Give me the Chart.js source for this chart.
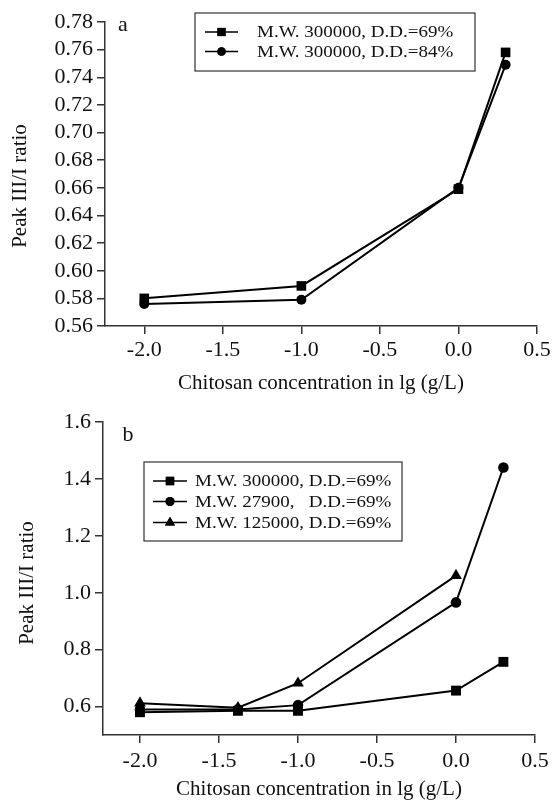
<!DOCTYPE html>
<html>
<head>
<meta charset="utf-8">
<script src="https://cdn.jsdelivr.net/npm/chart.js@4/dist/chart.umd.min.js"></script>
<style>
  html, body { margin: 0; padding: 0; background: #fff; }
  .wrap { position: relative; width: 554px; height: 803px; }
  canvas { position: absolute; left: 0; }
  #chart-a { top: 0; }
  #chart-b { top: 400px; }
</style>
</head>
<body>
<div class="wrap">
  <canvas id="chart-a" width="554" height="400" style="width:554px;height:400px"></canvas>
  <canvas id="chart-b" width="554" height="403" style="width:554px;height:403px"></canvas>
</div>
<script>
// ── Datos panel a ────────────────────────────────────────────────────────────
const concA   = [-2.0, -1.0, 0.0, 0.3];
const dd69A   = [0.580, 0.589, 0.659, 0.758];
const dd84A   = [0.576, 0.579, 0.660, 0.749];
const labelsA = ['M.W. 300000, D.D.=69%', 'M.W. 300000, D.D.=84%'];
const xTicksA = [-2.0, -1.5, -1.0, -0.5, 0.0, 0.5];
const yTicksA = [0.56, 0.58, 0.60, 0.62, 0.64, 0.66, 0.68, 0.70, 0.72, 0.74, 0.76, 0.78];

// ── Datos panel b ────────────────────────────────────────────────────────────
const concB      = [-2.0, -1.38, -1.0, 0.0, 0.3];
const mw300000B  = [0.580, 0.585, 0.585, 0.656, 0.757];
const mw27900B   = [0.590, 0.590, 0.605, 0.966, 1.440];
const mw125000B  = [0.612, 0.596, 0.682, 1.060];        // sin punto en 0.3
const labelsB    = ['M.W. 300000, D.D.=69%', 'M.W. 27900,   D.D.=69%', 'M.W. 125000, D.D.=69%'];
const xTicksB    = [-2.0, -1.5, -1.0, -0.5, 0.0, 0.5];
const yTicksB    = [0.6, 0.8, 1.0, 1.2, 1.4, 1.6];

const FONT = "'Liberation Serif', 'Times New Roman', serif";
const INK  = '#111';
const AXIS = '#333';

const toXY = (xs, ys) => ys.map((y, i) => ({ x: xs[i], y }));

// Leyenda con recuadro dentro del área del gráfico
const boxLegend = {
  id: 'boxLegend',
  afterDraw(chart, args, o) {
    const ctx = chart.ctx;
    ctx.save();
    ctx.strokeStyle = AXIS;
    ctx.lineWidth = 1.2;
    ctx.strokeRect(o.box[0], o.box[1], o.box[2], o.box[3]);
    chart.data.datasets.forEach((ds, i) => {
      const y = o.rows[i];
      ctx.strokeStyle = '#000';
      ctx.lineWidth = 1.6;
      ctx.beginPath();
      ctx.moveTo(o.symX, y);
      ctx.lineTo(o.symX + o.symW, y);
      ctx.stroke();
      ctx.fillStyle = '#000';
      Chart.helpers.drawPoint(ctx, { pointStyle: ds.pointStyle, radius: ds.pointRadius * 0.85, borderWidth: 0 },
        o.symX + o.symW / 2, y);
      ctx.fill();
      ctx.save();
      ctx.translate(o.textX, y + 1);
      ctx.scale(1, 0.86);
      ctx.font = '19px ' + FONT;
      ctx.fillStyle = INK;
      ctx.textBaseline = 'middle';
      ctx.fillText(ds.label, 0, 0);
      ctx.restore();
    });
    ctx.restore();
  }
};

// Letra del panel (a / b) y título vertical
const panelText = {
  id: 'panelText',
  afterDraw(chart, args, o) {
    const ctx = chart.ctx;
    ctx.save();
    ctx.fillStyle = INK;
    ctx.textAlign = 'center';
    ctx.textBaseline = 'middle';
    ctx.font = '22px ' + FONT;
    ctx.fillText(o.tag, o.tagX, o.tagY);
    ctx.font = '21px ' + FONT;
    ctx.translate(o.titleX, o.titleY);
    ctx.rotate(-Math.PI / 2);
    ctx.fillText('Peak III/I ratio', 0, 0);
    ctx.restore();
  }
};

function lineSet(label, data, style, r) {
  return {
    label, data,
    borderColor: '#000', borderWidth: 2, tension: 0,
    pointStyle: style, pointRadius: r, pointHoverRadius: r,
    pointBackgroundColor: '#000', pointBorderWidth: 0,
  };
}

function makeChart(id, cfg) {
  return new Chart(document.getElementById(id), {
    type: 'scatter',
    data: { datasets: cfg.datasets },
    plugins: [boxLegend, panelText],
    options: {
      responsive: false, animation: false,
      showLine: true,
      layout: { padding: cfg.padding },
      plugins: {
        legend: { display: false },
        tooltip: { enabled: false },
        boxLegend: cfg.legend,
        panelText: cfg.text,
      },
      scales: {
        x: {
          type: 'linear', min: cfg.xMin, max: 0.5,
          afterBuildTicks: s => { s.ticks = cfg.xTicks.map(v => ({ value: v })); },
          afterFit: s => { s.height = cfg.xHeight; },
          border: { display: true, color: AXIS, width: 1.5 },
          grid: { display: true, drawOnChartArea: false, drawTicks: true, tickLength: 8, color: AXIS, lineWidth: 1.5 },
          ticks: { color: INK, font: { family: FONT, size: 22 }, padding: cfg.xPad, maxRotation: 0, autoSkip: false,
                   callback: v => (+v).toFixed(1) },
          title: { display: true, text: 'Chitosan concentration in lg (g/L)', color: INK,
                   font: { family: FONT, size: 21 }, padding: { top: 0, bottom: cfg.xTitlePad } },
        },
        y: {
          type: 'linear', min: cfg.yMin, max: cfg.yMax,
          afterBuildTicks: s => { s.ticks = cfg.yTicks.map(v => ({ value: v })); },
          afterFit: s => { s.width = cfg.yWidth; },
          border: { display: true, color: AXIS, width: 1.5 },
          grid: { display: true, drawOnChartArea: false, drawTicks: true, tickLength: 8, color: AXIS, lineWidth: 1.5 },
          ticks: { color: INK, font: { family: FONT, size: 22 }, padding: 4, autoSkip: false,
                   callback: v => (+v).toFixed(cfg.yDec) },
        },
      },
    },
  });
}

makeChart('chart-a', {
  datasets: [
    lineSet(labelsA[0], toXY(concA, dd69A), 'rect', 6.8),
    lineSet(labelsA[1], toXY(concA, dd84A), 'circle', 5),
  ],
  padding: { top: 22, right: 17, left: 0, bottom: 0 },
  xMin: -2.25, xTicks: xTicksA, xHeight: 74, xPad: 3, xTitlePad: 4,
  yMin: 0.56, yMax: 0.78, yTicks: yTicksA, yWidth: 105, yDec: 2,
  legend: { box: [195, 13, 280, 58], rows: [32, 51.5], symX: 205, symW: 33, textX: 257 },
  text: { tag: 'a', tagX: 123, tagY: 25, titleX: 20, titleY: 186 },
});

makeChart('chart-b', {
  datasets: [
    lineSet(labelsB[0], toXY(concB, mw300000B), 'rect', 7),
    lineSet(labelsB[1], toXY(concB, mw27900B), 'circle', 5.3),
    lineSet(labelsB[2], toXY(concB, mw125000B), 'triangle', 6.8),
  ],
  padding: { top: 22, right: 19, left: 0, bottom: 0 },
  xMin: -2.234, xTicks: xTicksB, xHeight: 68, xPad: 5, xTitlePad: 1,
  yMin: 0.5, yMax: 1.6, yTicks: yTicksB, yWidth: 103, yDec: 1,
  legend: { box: [144, 62, 258, 79], rows: [81, 101.5, 122.5], symX: 153, symW: 34, textX: 195 },
  text: { tag: 'b', tagX: 128, tagY: 35, titleX: 27, titleY: 183 },
});
</script>
</body>
</html>
